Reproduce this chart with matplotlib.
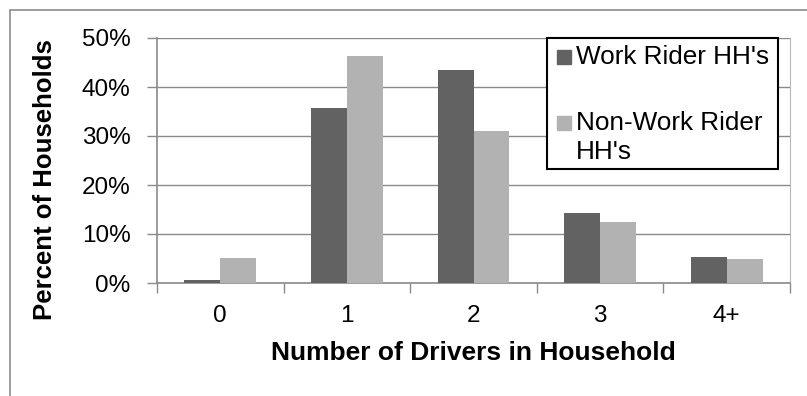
import matplotlib

matplotlib.use("Agg")
import matplotlib.pyplot as plt
from matplotlib.patches import Rectangle
from matplotlib.ticker import PercentFormatter, FixedLocator
import numpy as np

categories = ["0", "1", "2", "3", "4+"]
work_riders = [0.7, 35.8, 43.5, 14.3, 5.4]
non_work_riders = [5.1, 46.3, 31.1, 12.5, 4.8]
series_labels = ["Work Rider HH's", "Non-Work Rider\nHH's"]

DARK, LIGHT = "#626262", "#b2b2b2"
GRID = "#8a8a8a"

plt.rcParams.update({
    "font.family": ["Liberation Sans", "DejaVu Sans"],
    "font.size": 17.5,
})

W, H = 807, 396


def fx(px):
    return px / W


def fy(py):
    return 1 - py / H


fig = plt.figure(figsize=(W / 100, H / 100), dpi=100)
ax = fig.add_axes([fx(157), fy(283), 633 / W, 245 / H])

x = np.arange(len(categories))
bw = 0.284
ax.bar(x - bw / 2, work_riders, bw, color=DARK, zorder=3)
ax.bar(x + bw / 2, non_work_riders, bw, color=LIGHT, zorder=3)

ax.set_xlim(-0.5, len(categories) - 0.5)
ax.set_ylim(0, 50)
ax.set_yticks(np.arange(0, 51, 10))
ax.yaxis.set_major_formatter(PercentFormatter(decimals=0))
ax.set_xticks(x)
ax.set_xticklabels(categories)
ax.xaxis.set_minor_locator(FixedLocator(np.arange(-0.5, len(categories), 1)))
ax.tick_params(axis="x", which="major", length=0, pad=16)
ax.tick_params(axis="x", which="minor", length=7, width=1, color=GRID)
ax.tick_params(axis="y", length=7, width=1, color=GRID, pad=12)
ax.grid(axis="y", color=GRID, lw=1, zorder=0)
ax.spines["top"].set_visible(False)
for side in ("left", "bottom"):
    ax.spines[side].set_color(GRID)
    ax.spines[side].set_linewidth(1.2)
ax.spines["right"].set_color("#b8b8b8")

ax.set_xlabel("Number of Drivers in Household", fontweight="bold", fontsize=19, labelpad=10)
fig.text(fx(45), fy(180), "Percent of Households", rotation=90, fontweight="bold",
         fontsize=18.5, ha="center", va="center")

# legend box drawn by hand so the swatch sits on the first line of the wrapped label
fig.patches.append(Rectangle((fx(547), fy(169.5)), 230.5 / W, 131.5 / H,
                             transform=fig.transFigure, fc="white", ec="black", lw=1.5, zorder=5))
for color, label, yc in ((DARK, series_labels[0], 57), (LIGHT, series_labels[1], 123)):
    fig.patches.append(Rectangle((fx(557), fy(yc + 7)), 14 / W, 14 / H,
                                 transform=fig.transFigure, color=color, zorder=6))
    for i, line in enumerate(label.split("\n")):
        fig.text(fx(576), fy(yc + 28.7 * i), line, fontsize=18.8, ha="left",
                 va="center", zorder=7)

fig.patches.append(Rectangle((fx(10), -0.1), 1.2, fy(10) + 0.1, transform=fig.transFigure,
                             fill=False, ec="#8c8c8c", lw=1.2))

fig.savefig("out.png", dpi=100)
